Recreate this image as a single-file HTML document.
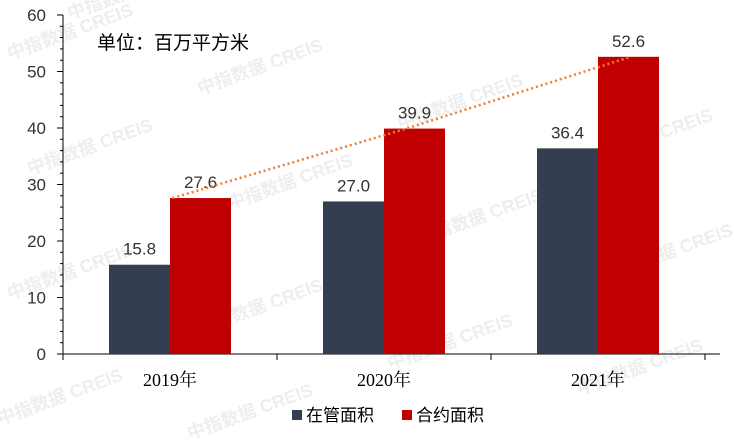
<!DOCTYPE html>
<html><head><meta charset="utf-8"><style>
body{margin:0;background:#fff}
svg text{font-family:"Liberation Sans","Noto Sans CJK SC",sans-serif}
</style></head><body>
<svg id="chart" width="734" height="438" xmlns="http://www.w3.org/2000/svg">
<g id="wm"></g>
<g id="axes"></g>
<g id="bars"></g>
<text x="97" y="49" font-size="19" fill="#000">单位：百万平方米</text>
<g>
<rect x="292" y="410" width="10" height="10" fill="#333f50"/>
<text x="306" y="421" font-size="17">在管面积</text>
<rect x="402" y="410" width="10" height="10" fill="#c00000"/>
<text x="416" y="421" font-size="17">合约面积</text>
</g>
</svg>
<script>
const categories=["2019年","2020年","2021年"];
const managed=[15.8,27.0,36.4];
const contracted=[27.6,39.9,52.6];
const yTicks=[0,10,20,30,40,50,60];
const NS="http://www.w3.org/2000/svg";
const x0=63,x1=705,yBase=354,yTop=15,yMax=60;
const y=v=>yBase-(v/yMax)*(yBase-yTop);
const band=(x1-x0)/categories.length;
const cx=i=>x0+band*(i+0.5);
const bw=61;
function mk(tag,attrs,parent){const e=document.createElementNS(NS,tag);for(const k in attrs)e.setAttribute(k,attrs[k]);parent.appendChild(e);return e;}
const wm=document.getElementById('wm');
[[10,60],[200,95],[400,130],[590,165],[30,175],[230,210],[420,245],[610,280],[10,300],[200,335],[390,370],[580,395],[0,425],[190,440],[70,20]].forEach(p=>{
 const t=mk('text',{x:p[0],y:p[1],'font-size':18,'font-weight':'bold',fill:'#eeeeee',transform:`rotate(-20 ${p[0]} ${p[1]})`},wm);
 
 
 t.textContent='中指数据 CREIS';
});
const axes=document.getElementById('axes');
const ya=mk('line',{x1:x0,y1:yTop,x2:x0,y2:yBase,stroke:'#000','stroke-width':1},axes);


const xa=mk('line',{x1:x0,y1:yBase,x2:720,y2:yBase,stroke:'#000','stroke-width':1},axes);


for(let v=0;v<=yMax;v+=2){const t=mk('line',{x1:x0-(v%10===0?6:3),y1:y(v),x2:x0,y2:y(v),stroke:'#000'},axes);
 
 }
yTicks.forEach(v=>{const t=mk('text',{x:46,y:y(v)+6,'text-anchor':'end','font-size':17,fill:'#333'},axes);
 
 
 t.textContent=v;});
for(let i=0;i<=categories.length;i++){const t=mk('line',{x1:x0+band*i,y1:yBase,x2:x0+band*i,y2:yBase+6,stroke:'#000'},axes);
 
 }
categories.forEach((c,i)=>{const t=mk('text',{x:cx(i),y:386,'text-anchor':'middle','font-size':18,style:'font-family:"Liberation Serif","Noto Serif CJK SC",serif'},axes);
 
 
 t.textContent=c;});
const bars=document.getElementById('bars');
const pts=[];
categories.forEach((c,i)=>{
 const b1=mk('rect',{x:cx(i)-bw,y:y(managed[i]),width:bw,height:yBase-y(managed[i]),fill:'#333f50'},bars);
 
 
 const b2=mk('rect',{x:cx(i),y:y(contracted[i]),width:bw,height:yBase-y(contracted[i]),fill:'#c00000'},bars);
 
 
 const l1=mk('text',{x:cx(i)-bw/2,y:y(managed[i])-10,'text-anchor':'middle','font-size':17,fill:'#333'},bars);
 
 
 l1.textContent=managed[i].toFixed(1);
 const l2=mk('text',{x:cx(i)+bw/2,y:y(contracted[i])-10,'text-anchor':'middle','font-size':17,fill:'#333'},bars);
 
 
 l2.textContent=contracted[i].toFixed(1);
 pts.push([cx(i)+bw/2-(i===0?28:i===1?8:-2),y(contracted[i])]);
});
const tl=mk('polyline',{points:pts.map(p=>p.join(',')).join(' '),fill:'none',stroke:'#ed7d31','stroke-width':2.5,'stroke-dasharray':'2 3'},bars);


</script>
</body></html>
